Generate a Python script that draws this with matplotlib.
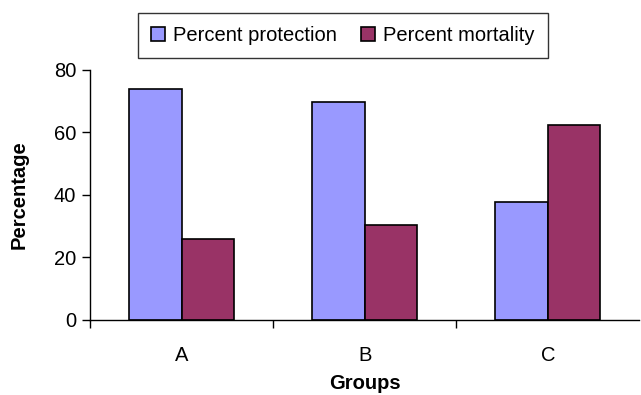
import numpy as np
import matplotlib
matplotlib.use("Agg")
import matplotlib.pyplot as plt

plt.rcParams["font.family"] = ["Liberation Sans", "DejaVu Sans"]

# Data
groups = ["A", "B", "C"]
protection = [74.0, 69.6, 37.6]
mortality = [26.0, 30.4, 62.4]

fig = plt.figure(figsize=(6.41, 3.95), dpi=100)
ax = fig.add_axes([0.1404, 0.19, 0.857, 0.633])

x = np.arange(len(groups))
w = 0.286
ax.bar(x - w / 2, protection, w, color="#9999FF", edgecolor="black", linewidth=1.2,
       label="Percent protection")
ax.bar(x + w / 2, mortality, w, color="#993366", edgecolor="black", linewidth=1.2,
       label="Percent mortality")

ax.set_xlim(-0.5, 2.5)
ax.set_ylim(0, 80)
ax.set_yticks([0, 20, 40, 60, 80])

# category ticks sit between groups
ax.set_xticks([-0.5, 0.5, 1.5])
ax.set_xticklabels([])
ax.set_xticks(x, minor=True)
ax.set_xticklabels(groups, minor=True)
ax.tick_params(axis="x", which="minor", length=0, pad=19, labelsize=14.5)
ax.tick_params(axis="x", which="major", length=6, width=1, direction="out")
ax.tick_params(axis="y", length=6, width=1, direction="out", labelsize=14.5, pad=4)

for s in ["top", "right"]:
    ax.spines[s].set_visible(False)
ax.spines["left"].set_linewidth(1)
ax.spines["bottom"].set_linewidth(1)

ax.set_ylabel("Percentage", fontsize=14.5, fontweight="bold", labelpad=18)
ax.set_xlabel("Groups", fontsize=14.5, fontweight="bold", labelpad=6)

leg = fig.legend(loc="center", bbox_to_anchor=(0.535, 0.911), ncol=2, fontsize=14.5,
                 frameon=True, fancybox=False, handlelength=0.7, handleheight=0.7,
                 handletextpad=0.4, columnspacing=1.2, borderpad=0.65)
leg.get_frame().set_edgecolor("black")
leg.get_frame().set_linewidth(1)

fig.savefig("out.png", dpi=100)
